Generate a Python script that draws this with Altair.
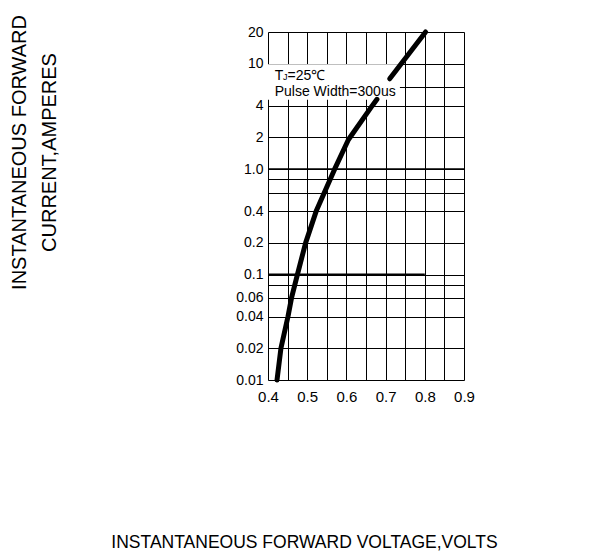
import altair as alt
import pandas as pd

# Forward characteristic curve (two visible pieces, broken by the annotation text)
volts = [0.423, 0.433, 0.451, 0.460, 0.475, 0.496, 0.523, 0.570, 0.605, 0.666, 0.678, 0.7105, 0.802]
amps = [0.01, 0.02, 0.04, 0.06, 0.1, 0.2, 0.4, 1.0, 1.9, 4.0, 4.6, 7.2, 20.0]
segment = [0, 0, 0, 0, 0, 0, 0, 0, 0, 0, 0, 1, 1]

# grid / tick values
x_grid = [0.4, 0.45, 0.5, 0.55, 0.6, 0.65, 0.7, 0.75, 0.8, 0.85, 0.9]
y_grid = [0.01, 0.02, 0.04, 0.06, 0.08, 0.1, 0.2, 0.4, 0.6, 0.8, 1.0, 2.0, 4.0, 6.0, 10.0, 20.0]
y_unlabeled = [0.08, 0.6, 0.8, 6.0]

# heavy reference lines
rule_y = [0.1, 1.0]
rule_x1 = [0.4, 0.4]
rule_x2 = [0.8, 0.9]
rule_w = [2.2, 1.6]

# annotation box and text
box_v1, box_v2 = [0.4], [0.7365]
box_i1, box_i2 = [9.9], [4.56]
ann_text = ["T", "J", "=25\u2103", "Pulse Width=300us"]
ann_v = [0.417, 0.4385, 0.4500, 0.417]
ann_i = [7.05, 7.05, 7.05, 4.9]
ann_size = [14, 9, 14, 14]

FONT = "Liberation Sans"

x_scale = alt.Scale(domain=[0.4, 0.9], nice=False, zero=False)
y_scale = alt.Scale(type="log", domain=[0.01, 20], nice=False)

unl = ",".join(str(v) for v in y_unlabeled)
y_label_expr = (
    f"indexof([{unl}], datum.value) >= 0 ? '' : "
    "(datum.value == 1 ? '1.0' : format(datum.value, '~g'))"
)
x_label_expr = "abs(datum.value*10 - round(datum.value*10)) < 0.01 ? format(datum.value, '.1f') : ''"

x_axis = alt.Axis(
    values=x_grid, grid=True, gridColor="#000", gridWidth=1, gridOpacity=1,
    ticks=False, domain=False, labelExpr=x_label_expr, labelFlush=False,
    labelOverlap=False,
    labelFont=FONT, labelFontSize=15, labelColor="#000", labelPadding=9,
    title="INSTANTANEOUS FORWARD VOLTAGE,VOLTS",
    titleFont=FONT, titleFontSize=17.5, titleFontWeight="normal", titleColor="#000",
    titleX=36, titleY=167, titleAlign="center", titleBaseline="alphabetic",
)
y_axis = alt.Axis(
    values=y_grid, grid=True, gridColor="#000", gridWidth=1, gridOpacity=1,
    ticks=False, domain=False, labelExpr=y_label_expr, labelFlush=False,
    labelOverlap=False,
    labelFont=FONT, labelFontSize=14, labelColor="#000", labelPadding=5,
    title=["INSTANTANEOUS FORWARD", "CURRENT,AMPERES"],
    titleFont=FONT, titleFontSize=20, titleFontWeight="normal", titleColor="#000",
    titleAngle=270, titleX=-243, titleY=120, titleAlign="center",
    titleBaseline="alphabetic", titleLineHeight=30,
)

df_curve = pd.DataFrame({"V": volts, "I": amps, "seg": segment})
df_rule = pd.DataFrame({"y": rule_y, "x1": rule_x1, "x2": rule_x2, "w": rule_w})
df_box = pd.DataFrame({"v1": box_v1, "v2": box_v2, "i1": box_i1, "i2": box_i2})
df_ann = pd.DataFrame({"V": ann_v, "I": ann_i, "t": ann_text, "s": ann_size})

rules = alt.Chart(df_rule).mark_rule(color="#000").encode(
    x=alt.X("x1:Q", scale=x_scale, axis=x_axis),
    x2="x2:Q",
    y=alt.Y("y:Q", scale=y_scale, axis=y_axis),
    strokeWidth=alt.StrokeWidth("w:Q", scale=None),
)

box = alt.Chart(df_box).mark_rect(fill="white").encode(
    x=alt.X("v1:Q", scale=x_scale, axis=x_axis),
    x2="v2:Q",
    y=alt.Y("i1:Q", scale=y_scale, axis=y_axis),
    y2="i2:Q",
)

curve = alt.Chart(df_curve).mark_line(
    color="#000", strokeWidth=5, strokeCap="round", strokeJoin="round"
).encode(
    x=alt.X("V:Q", scale=x_scale, axis=x_axis),
    y=alt.Y("I:Q", scale=y_scale, axis=y_axis),
    detail="seg:N",
    order="V:Q",
)

ann = alt.Chart(df_ann).mark_text(
    font=FONT, color="#000", align="left", baseline="alphabetic"
).encode(
    x=alt.X("V:Q", scale=x_scale, axis=x_axis),
    y=alt.Y("I:Q", scale=y_scale, axis=y_axis),
    text="t:N",
    size=alt.Size("s:Q", scale=None),
)

chart = (
    alt.layer(rules, box, curve, ann)
    .properties(
        width=196, height=348,
        autosize=alt.AutoSizeParams(type="none"),
        padding={"left": 260, "top": 24, "right": 130, "bottom": 172},
    )
    .configure_view(stroke="#000", strokeWidth=1)
    .configure(background="white")
)

chart.save("out.html", embed_options={"renderer": "svg", "actions": False})
